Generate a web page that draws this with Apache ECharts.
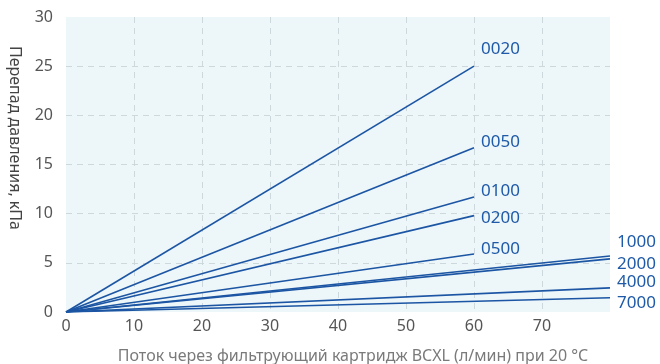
<!DOCTYPE html>
<html>
<head>
<meta charset="utf-8">
<script src="https://cdn.jsdelivr.net/npm/echarts@6/dist/echarts.min.js"></script>
<style>
  html, body { margin: 0; padding: 0; background: #fff; }
  #chart { width: 660px; height: 364px; }
</style>
</head>
<body>
<div id="chart"></div>
<script>
// Cartridge grades and their pressure-drop lines (start at the origin, end at the given flow)
const grades   = ['0020', '0050', '0100', '0200', '0500', '1000', '2000', '4000', '7000'];
const endFlow  = [60, 60, 60, 60, 60, 80, 80, 80, 80];      // л/мин
const endDrop  = [25, 16.7, 11.7, 9.8, 5.9, 5.7, 5.4, 2.45, 1.45]; // кПа
const xTicks   = [0, 10, 20, 30, 40, 50, 60, 70];
const yTicks   = [0, 5, 10, 15, 20, 25, 30];

const xTitle = 'Поток через фильтрующий картридж BCXL (л/мин) при 20 °C';
const yTitle = 'Перепад давления, кПа';

// label nudges so neighbouring end labels do not collide
const labelOffset = [[0, -17], [0, -6], [0, -6], [0, 3], [0, -5], [0, -14], [0, 5], [0, -6], [0, 5]];

const lineColor = '#1b55a3';
const labelColor = '#1f5aa8';

const chart = echarts.init(document.getElementById('chart'), null, { renderer: 'canvas' });

const series = grades.map((g, i) => ({
  name: g,
  type: 'line',
  data: [[0, 0], [endFlow[i], endDrop[i]]],
  symbol: 'none',
  lineStyle: { color: lineColor, width: 1.6 },
  endLabel: {
    show: true,
    formatter: g,
    color: labelColor,
    fontSize: 17,
    fontFamily: 'Noto Sans',
    distance: 7,
    offset: labelOffset[i]
  },
  silent: true
}));

const gridLine = { color: '#cdd8dc', type: [6, 5], width: 1 };

chart.setOption({
  animation: false,
  backgroundColor: '#ffffff',
  grid: {
    left: 66, right: 50, top: 17, bottom: 52,
    show: true, backgroundColor: '#edf6f9', borderWidth: 0
  },
  xAxis: {
    type: 'value',
    min: 0, max: 80, interval: 10,
    axisLine: { show: false },
    axisTick: { show: false },
    axisLabel: {
      color: '#555', fontSize: 16, fontFamily: 'Noto Sans', margin: 6,
      formatter: v => (xTicks.includes(v) ? String(v) : '')
    },
    splitLine: { show: true, showMinLine: false, showMaxLine: false, lineStyle: gridLine }
  },
  yAxis: {
    type: 'value',
    min: 0, max: 30, interval: 5,
    axisLine: { show: false },
    axisTick: { show: false },
    axisLabel: {
      color: '#555', fontSize: 16, fontFamily: 'Noto Sans', margin: 13,
      formatter: v => (yTicks.includes(v) ? String(v) : '')
    },
    splitLine: { show: true, showMinLine: false, showMaxLine: false, lineStyle: gridLine }
  },
  graphic: [
    {
      type: 'text', x: 353, y: 356,
      style: {
        text: xTitle, fill: '#7a7a7a', fontSize: 16, fontFamily: 'Noto Sans',
        textAlign: 'center', textVerticalAlign: 'middle'
      }
    },
    {
      type: 'text', x: 15, y: 138, rotation: -Math.PI / 2,
      style: {
        text: yTitle, fill: '#444', fontSize: 16, fontFamily: 'Noto Sans',
        textAlign: 'center', textVerticalAlign: 'middle'
      }
    }
  ],
  series: series
});
</script>
</body>
</html>
